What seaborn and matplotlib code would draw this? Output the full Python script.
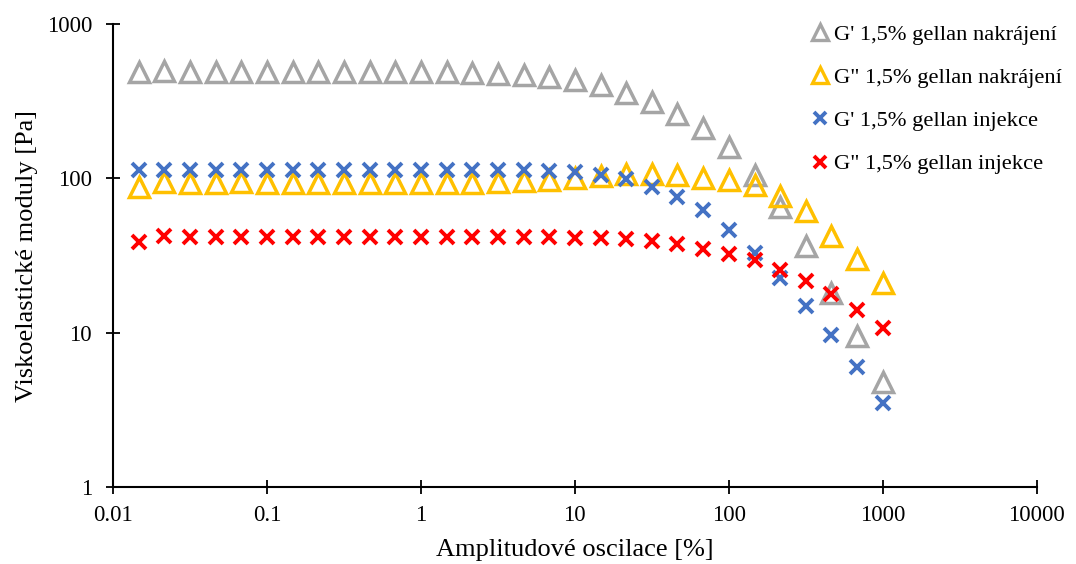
import pandas as pd
import seaborn as sns
import matplotlib.pyplot as plt
from matplotlib.lines import Line2D

# amplituda [%]
amplitude = [0.0147, 0.0215, 0.0316, 0.0464, 0.0681, 0.1, 0.147, 0.215, 0.316, 0.464,
             0.681, 1.0, 1.47, 2.15, 3.16, 4.64, 6.81, 10.0, 14.7, 21.5,
             31.6, 46.4, 68.1, 100.0, 147.0, 215.0, 316.0, 464.0, 681.0, 1000.0]

g1_nakr = [490, 496, 490, 490, 492, 490, 490, 490, 490, 488,
           490, 488, 486, 481, 474, 467, 453, 434, 400, 357,
           312, 262, 211, 160, 105, 65, 36.5, 18.0, 9.5, 4.8]
g2_nakr = [88, 95, 93, 93, 95, 94, 94, 93, 93, 93,
           93, 93, 94, 94, 95, 96, 98, 100, 104, 107,
           107, 105, 101, 97, 90, 77, 61, 42.5, 30, 21]
g1_inj = [113, 113, 113, 113, 114, 114, 114, 114, 114, 114,
          114, 114, 114, 114, 114, 113, 112, 110, 105, 99,
          88, 76, 62, 46, 33, 22.5, 15, 9.6, 6.0, 3.5]
g2_inj = [38.5, 42.5, 41.5, 41.5, 41.5, 41.5, 41.5, 41.5, 41.5, 41.5,
          41.5, 41.5, 41.5, 41.5, 41.5, 41.5, 41.5, 41, 41, 40.2,
          39, 37.5, 35, 32.5, 29.5, 25.5, 21.5, 17.8, 14.0, 10.7]

labels = ["G' 1,5% gellan nakrájení", 'G" 1,5% gellan nakrájení',
          "G' 1,5% gellan injekce", 'G" 1,5% gellan injekce']
colors = ['#A5A5A5', '#FFC000', '#4472C4', '#FF0000']
markers = ['^', '^', 'x', 'x']

sns.set_theme(style="white")
plt.rcParams['font.family'] = ['Liberation Serif', 'DejaVu Serif']
plt.rcParams['text.color'] = 'black'
plt.rcParams['axes.labelcolor'] = 'black'

fig = plt.figure(figsize=(10.76, 5.64), dpi=100)
ax = fig.add_axes([0.105, 0.1365, 0.8585, 0.8209])

series = [g1_nakr, g2_nakr, g1_inj, g2_inj]
for vals, lab, col, m in zip(series, labels, colors, markers):
    df = pd.DataFrame({'x': amplitude, 'y': vals})
    if m == '^':
        sns.lineplot(data=df, x='x', y='y', ax=ax, linestyle='', marker='^',
                     markersize=15, markerfacecolor='none', markeredgecolor=col,
                     markeredgewidth=2.5, estimator=None, sort=False)
    else:
        sns.lineplot(data=df, x='x', y='y', ax=ax, linestyle='', marker='x',
                     markersize=10, markeredgecolor=col, color=col,
                     markeredgewidth=2.8, estimator=None, sort=False)

ax.set_xscale('log')
ax.set_yscale('log')
ax.set_xlim(0.01, 10000)
ax.set_ylim(1, 1000)
ax.set_xticks([0.01, 0.1, 1, 10, 100, 1000, 10000])
ax.set_xticklabels(['0.01', '0.1', '1', '10', '100', '1000', '10000'])
ax.set_yticks([1, 10, 100, 1000])
ax.set_yticklabels(['1', '10', '100', '1000'])
ax.minorticks_off()
ax.tick_params(axis='both', which='major', direction='inout', length=10, width=1.3,
               labelsize=16.5, color='black', labelcolor='black', left=True, bottom=True)
ax.tick_params(axis='x', pad=8)
ax.tick_params(axis='y', pad=10)

sns.despine(ax=ax)
for s in ['left', 'bottom']:
    ax.spines[s].set_color('black')
    ax.spines[s].set_linewidth(1.5)

ax.set_xlabel('Amplitudové oscilace [%]', fontsize=19, labelpad=9)
ax.set_ylabel('Viskoelastické moduly [Pa]', fontsize=19, labelpad=6)

handles = []
for lab, col, m in zip(labels, colors, markers):
    if m == '^':
        h = Line2D([], [], linestyle='', marker='^', markersize=11, markerfacecolor='none',
                   markeredgecolor=col, markeredgewidth=2.4)
    else:
        h = Line2D([], [], linestyle='', marker='x', markersize=9, color=col,
                   markeredgewidth=2.8)
    handles.append(h)

fig.legend(handles, labels, loc='upper left', bbox_to_anchor=(810 / 1076, 1 - 24 / 564),
           frameon=False, fontsize=16.2, labelspacing=1.0, handlelength=0.9,
           handletextpad=0.15, borderaxespad=0, borderpad=0)

fig.savefig('out.png', dpi=100)
